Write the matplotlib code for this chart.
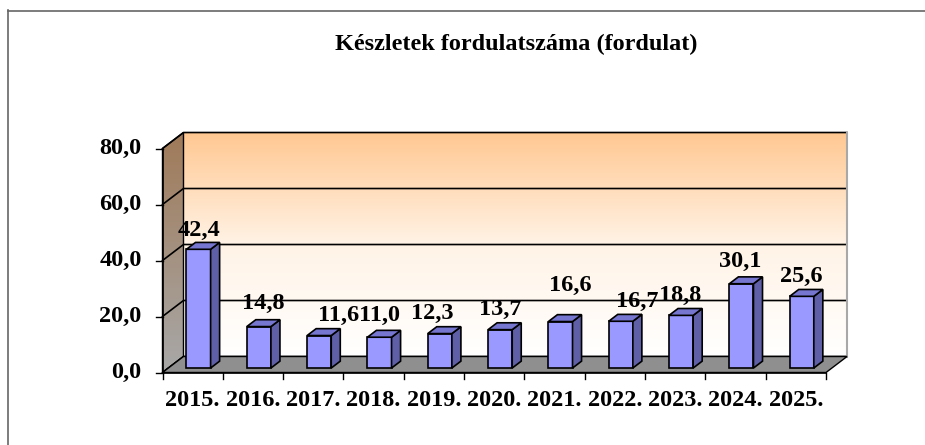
import numpy as np
import matplotlib.pyplot as plt
from matplotlib.patches import Polygon
from matplotlib.lines import Line2D
from matplotlib.colors import LinearSegmentedColormap

# chart data
title = 'Készletek fordulatszáma (fordulat)'
years = ['2015.', '2016.', '2017.', '2018.', '2019.', '2020.',
         '2021.', '2022.', '2023.', '2024.', '2025.']
turnover = [42.4, 14.8, 11.6, 11.0, 12.3, 13.7, 16.6, 16.7, 18.8, 30.1, 25.6]
y_ticks = [0, 20, 40, 60, 80]

# label nudges (px) where excel moved labels around to avoid overlap
label_nudge = [(0, 1), (4, -3), (19, 0), (0, -2), (-8, 0), (0, 0),
               (10, -16), (16, 0), (-1, 0), (-1, -2), (0, 0)]

# fake 3d settings
DX = 0.348          # depth offset, in categories
DY = 5.71           # depth offset, in value units
F0, F1 = 0.28, 0.71  # front / back of the bars as fraction of depth
BAR_W = 0.4
PX = 0.72           # points per pixel at dpi 100
FS = 17.5


def comma(v):
    return ('%.1f' % v).replace('.', ',')


plt.rcParams['font.family'] = ['Liberation Serif', 'DejaVu Serif']
fig = plt.figure(figsize=(9.25, 4.45), dpi=100)
ax = fig.add_axes([0, 0, 1, 1])

n = len(years)
ymax = y_ticks[-1]

#back wall with gradient
grad = np.linspace(0, 1, 256).reshape(-1, 1)
wall_cmap = LinearSegmentedColormap.from_list('wall', ['#FFFFFF', '#FFF3E6', '#FFC892'])
ax.imshow(grad, cmap=wall_cmap, origin='lower', aspect='auto', zorder=0,
          extent=[DX, n + DX, DY, ymax + DY])

#side wall
side = Polygon([(0, 0), (DX, DY), (DX, ymax + DY), (0, ymax)], closed=True,
               fc='none', ec='black', lw=1.0, zorder=2)
ax.add_patch(side)
side_cmap = LinearSegmentedColormap.from_list('side', ['#A8A8A8', '#A07A58'])
im = ax.imshow(grad, cmap=side_cmap, origin='lower', aspect='auto', zorder=1,
               extent=[0, DX, 0, ymax + DY])
im.set_clip_path(side)

#gridlines on both walls
for g in y_ticks:
    ax.plot([0, DX, n + DX], [g, g + DY, g + DY], color='black', lw=1.2, zorder=2)
ax.plot([n + DX, n + DX], [DY, ymax + DY], color='#A8A8A8', lw=1.5, zorder=2)

#floor
floor = Polygon([(0, 0), (n, 0), (n + DX, DY), (DX, DY)], closed=True,
                fc='#8F8F8F', ec='black', lw=1.0, zorder=3)
ax.add_patch(floor)

#axes and ticks
ax.plot([0, n], [0, 0], color='black', lw=1.2, zorder=4)
ax.plot([0, 0], [0, ymax], color='black', lw=1.2, zorder=4)
for i in range(n + 1):
    ax.plot([i, i], [0, -2.2], color='black', lw=1.0, zorder=4)
for g in y_ticks:
    ax.plot([-0.1, 0], [g, g], color='black', lw=1.0, zorder=4)
    ax.annotate(comma(g), (0, g), xytext=(-15, 0), textcoords='offset points',
                ha='right', va='center', fontsize=FS, fontweight='bold')

for i, yr in enumerate(years):
    ax.annotate(yr, (i + 0.5, 0), xytext=(0, -20.5), textcoords='offset points',
                ha='center', va='center', fontsize=FS, fontweight='bold')

#bars
ddx = (F1 - F0) * DX
ddy = (F1 - F0) * DY
for i, v in enumerate(turnover):
    x0 = i + (1 - BAR_W) / 2 + F0 * DX
    x1 = x0 + BAR_W
    y0 = F0 * DY
    y1 = v + F0 * DY
    front = Polygon([(x0, y0), (x1, y0), (x1, y1), (x0, y1)], closed=True,
                    fc='#9999FF', ec='black', lw=1.2, zorder=5)
    right = Polygon([(x1, y0), (x1 + ddx, y0 + ddy), (x1 + ddx, y1 + ddy), (x1, y1)],
                    closed=True, fc='#5F5FA8', ec='black', lw=1.2, zorder=5)
    top = Polygon([(x0, y1), (x1, y1), (x1 + ddx, y1 + ddy), (x0 + ddx, y1 + ddy)],
                  closed=True, fc='#7676D0', ec='black', lw=1.2, zorder=5)
    for p in (front, right, top):
        ax.add_patch(p)

    nx, ny = label_nudge[i]
    ax.annotate(comma(v), ((x0 + x1) / 2, y1),
                xytext=(nx * PX, (14.5 - ny) * PX), textcoords='offset points',
                ha='center', va='baseline', fontsize=FS, fontweight='bold', zorder=6)

ax.set_xlim(-162.5 / 60.32, (925 - 162.5) / 60.32)
ax.set_ylim(-(445 - 372.5) / 2.8, 372.5 / 2.8)
ax.axis('off')

#title and chart frame
fig.text(516 / 925, 1 - 50 / 445, title, ha='center', va='baseline',
         fontsize=17.5, fontweight='bold')
fig.add_artist(Line2D([7.5 / 925, 7.5 / 925], [0, 1 - 10 / 445],
                      transform=fig.transFigure, color='#666666', lw=1.2))
fig.add_artist(Line2D([7.5 / 925, 1], [1 - 10.5 / 445, 1 - 10.5 / 445],
                      transform=fig.transFigure, color='#666666', lw=1.2))

fig.savefig('out.png', dpi=100)
